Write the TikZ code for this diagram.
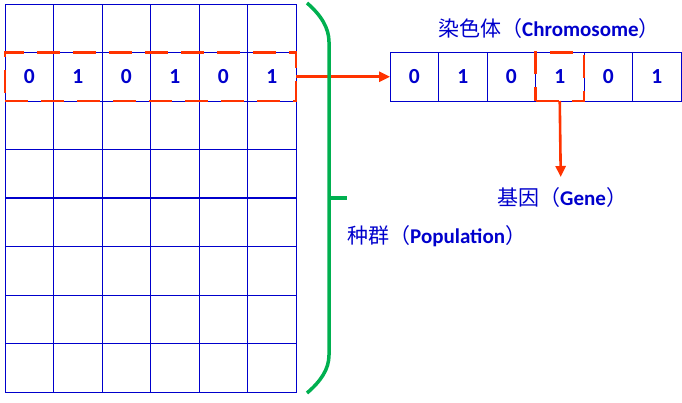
\documentclass[tikz,border=0pt]{standalone}
\usepackage{fontspec}
\setmainfont{Carlito}
\newfontfamily\cjk{Noto Sans CJK SC}
\usetikzlibrary{arrows.meta}
\definecolor{gblue}{HTML}{0000CC}
\definecolor{gred}{HTML}{FF3300}
\definecolor{ggreen}{HTML}{00B050}
\begin{document}
\begin{tikzpicture}[x=1pt,y=-1pt,
  cell/.style={draw=gblue,line width=1pt,minimum width=48.5pt,minimum height=48.5pt,
    inner sep=0pt,outer sep=0pt,anchor=north west,text=gblue,
    font=\fontsize{21.5}{24}\selectfont\bfseries},
  reddash/.style={draw=gred,line width=2.6pt,dash pattern=on 23pt off 13pt,
    inner sep=0pt,outer sep=0pt},
  redarrow/.style={draw=gred,line width=2.6pt,-{Triangle[length=11pt,width=10pt]}},
  lbl/.style={anchor=base west,inner sep=0pt,text=gblue,
    font=\fontsize{21}{24}\selectfont\bfseries},
  brace/.style={draw=ggreen,line width=3.5pt}]
\useasboundingbox (0,0) rectangle (682,402);
% population grid
\foreach \j in {0,...,7}{
  \foreach \i in {0,...,5}{
    \node[cell] (p\j\i) at ({5+48.5*\i},{4+48.5*\j}) {};
  }
}
\foreach \i/\v in {0/0,1/1,2/0,3/1,4/0,5/1}{
  \node[text=gblue,font=\fontsize{21.5}{24}\selectfont\bfseries] at (p1\i.center) {\v};
}
\draw[gblue,line width=1.8pt] (p30.south west) -- (p35.south east);
% highlighted chromosome row
\node[reddash,minimum width=291pt,minimum height=48.5pt,anchor=north west] (row) at (5,52.5) {};
% chromosome
\foreach \i/\v in {0/0,1/1,2/0,3/1,4/0,5/1}{
  \node[cell] (c\i) at ({390+48.5*\i},52.5) {\v};
}
\node[reddash,minimum width=48.5pt,minimum height=48.5pt] (gbox) at (c3.center) {};
% labels
\node[lbl] (chrom) at (438,36) {{\cjk\mdseries 染色体（}Chromosome{\cjk\mdseries ）}};
\node[lbl] (gene) at (497,205) {{\cjk\mdseries 基因（}Gene{\cjk\mdseries ）}};
\node[lbl] (pop) at (347,243) {{\cjk\mdseries 种群（}Population{\cjk\mdseries ）}};
% arrows
\draw[redarrow] (row.east) -- (c0.west);
\coordinate (gtip) at (560.75,177);
\draw[redarrow] (gbox.south) -- (gtip);
% brace
\coordinate (bt) at (307,3);
\coordinate (bb) at (307,393);
\coordinate (bm) at (329,198);
\coordinate (bmr) at (347,198);
\draw[brace] (bt) .. controls (321,15) and (329,28) .. (329,42) -- (329,355)
   .. controls (329,369) and (321,381) .. (bb);
\draw[brace] (bm) -- (bmr);
\end{tikzpicture}
\end{document}
